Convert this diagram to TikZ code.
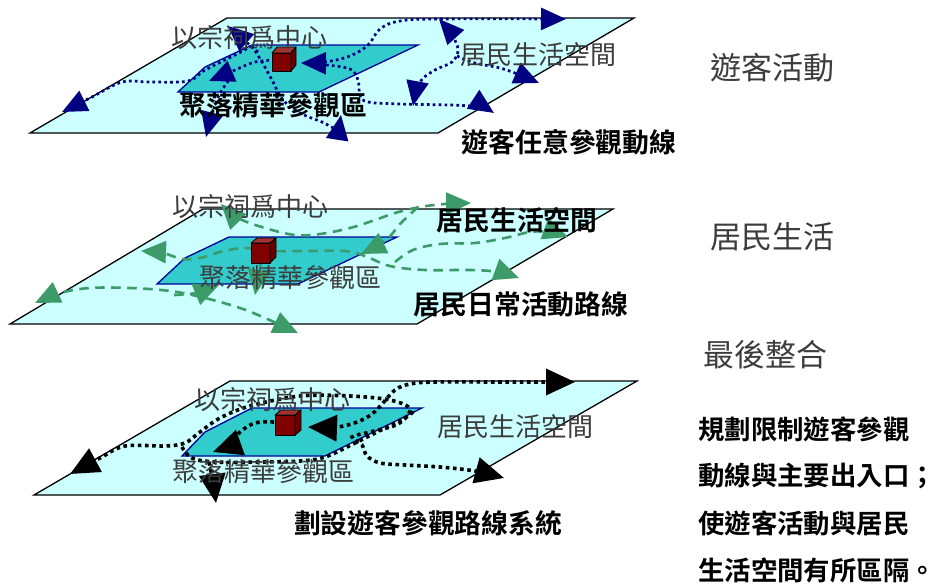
\documentclass[tikz,border=0pt]{standalone}
\usepackage{fontspec}
\setmainfont{Noto Sans CJK TC}[BoldFont={Noto Sans CJK TC Bold}]
\usetikzlibrary{arrows.meta}
\definecolor{navyl}{RGB}{0,0,128}
\definecolor{greenl}{RGB}{60,155,105}
\definecolor{planec}{RGB}{204,255,255}
\definecolor{corec}{RGB}{51,204,204}
\definecolor{coreedge}{RGB}{0,0,153}
\definecolor{cubefront}{RGB}{128,0,0}
\definecolor{cubetop}{RGB}{165,50,50}
\definecolor{cubeside}{RGB}{105,0,0}
\definecolor{txtgray}{RGB}{60,60,60}
\tikzset{
  plane/.style={fill=planec, draw=black, line width=1.3pt, line join=miter},
  core/.style={fill=corec, draw=coreedge, line width=1.3pt, line join=miter},
  cubef/.style={fill=cubefront, draw=black, line width=0.9pt, line join=round},
  cubet/.style={fill=cubetop, draw=black, line width=0.9pt, line join=round},
  cubes/.style={fill=cubeside, draw=black, line width=0.9pt, line join=round},
  tourline/.style={draw=navyl, line width=2.7pt, dash pattern=on 2.7pt off 3.2pt,
    >={Triangle[length=25pt,width=22pt]}},
  resline/.style={draw=greenl, line width=2.6pt, dash pattern=on 9.5pt off 6.5pt,
    >={Triangle[length=25pt,width=22pt]}},
  planline/.style={draw=black, line width=3.6pt, dash pattern=on 3.6pt off 3.6pt,
    >={Triangle[length=29pt,width=26pt]}},
  gtxt/.style={inner sep=0pt, text=txtgray, font=\fontsize{26}{30}\selectfont},
  btxt/.style={inner sep=0pt, text=black, font=\fontsize{26.8}{30}\selectfont\bfseries},
  rtxt/.style={inner sep=0pt, text=txtgray, font=\fontsize{31}{34}\selectfont},
  rbtxt/.style={inner sep=0pt, text=black, anchor=west, font=\fontsize{26.4}{30}\selectfont\bfseries},
}
\begin{document}
\begin{tikzpicture}[x=1pt,y=-1pt]
\useasboundingbox (0,0) rectangle (937,584);

% ---------------- Panel 1 ----------------
\draw[plane] (30,133) -- (438,133) -- (634,18) -- (227,18) -- cycle;
\draw[core] (178,92) -- (319,92) -- (418,45) -- (252,45) -- (205,67) -- cycle;
\draw[tourline,<->] plot[smooth,tension=0.6] coordinates {(301,63) (325,62) (350,56) (368,45) (380,29) (400,21) (440,19) (566,19)};
\draw[tourline,->] plot[smooth,tension=0.6] coordinates {(326,65) (350,69) (358,80) (360,95) (368,102) (400,104) (470,106) (494,113)};
\draw[tourline,->] plot[smooth,tension=0.6] coordinates {(252,46) (235,55) (205,70) (188,81) (150,82) (122,82) (92,97) (62,112)};
\draw[tourline,->] plot[smooth,tension=0.6] coordinates {(275,60) (255,62) (235,70) (209,81)};
\draw[tourline,->] plot[smooth,tension=0.6] coordinates {(258,52) (245,41) (228,26)};
\draw[tourline,->] plot[smooth,tension=0.6] coordinates {(252,46) (262,62) (272,80) (283,100) (300,113) (322,122) (336,128) (341,115)};
\draw[tourline,->] plot[smooth,tension=0.6] coordinates {(232,76) (219,95) (212,115) (206,137)};
\draw[tourline,<->] plot[smooth,tension=0.6] coordinates {(439,19) (452,35) (458,50) (452,62) (435,70) (420,82) (413,106)};
\draw[tourline,->] plot[smooth,tension=0.6] coordinates {(457,56) (475,63) (500,68) (520,75) (539,83)};
\draw[cubef] (272,53) rectangle (291,71);
\draw[cubet] (272,53) -- (291,53) -- (296,47) -- (277,47) -- cycle;
\draw[cubes] (291,53) -- (296,47) -- (296,65) -- (291,71) -- cycle;
\node[gtxt] (p1center) at (249,38) {以宗祠爲中心};
\node[btxt] (p1core) at (273,105) {聚落精華參觀區};
\node[gtxt] (p1life) at (538,55) {居民生活空間};
\node[btxt] (p1route) at (569,142) {遊客任意參觀動線};

% ---------------- Panel 2 ----------------
\draw[plane] (10,324) -- (417,324) -- (613,209) -- (203,209) -- cycle;
\draw[core] (157,284) -- (298,284) -- (397,237) -- (229,237) -- (185,258) -- cycle;
\draw[resline,<->] plot[smooth,tension=0.6] coordinates {(35,303) (60,293) (90,288) (130,288) (170,291) (205,298) (240,308) (265,318) (298,333)};
\draw[resline,->] plot[smooth,tension=0.6] coordinates {(174,295) (196,293) (219,285)};
\draw[resline,<->] plot[smooth,tension=0.6] coordinates {(141,251) (163,253) (182,259) (200,258) (220,252) (245,248) (275,251) (310,251) (345,251) (365,256) (390,266) (425,270) (470,270) (498,272) (519,278)};
\draw[resline,<->] plot[smooth,tension=0.6] coordinates {(221,204) (238,218) (265,228) (295,235) (320,234) (350,228) (375,220) (395,213) (420,207) (445,204) (471,203)};
\draw[resline,->] plot[smooth,tension=0.6] coordinates {(418,207) (400,224) (386,240) (361,254)};
\draw[resline,->] plot[smooth,tension=0.6] coordinates {(395,262) (413,250) (440,244) (475,243) (505,238) (530,232) (550,232) (568,237)};
\draw[resline,->] plot[smooth,tension=0.6] coordinates {(262,258) (258,278) (255,295)};
\draw[cubef] (251,243) rectangle (270,263);
\draw[cubet] (251,243) -- (270,243) -- (276,238) -- (257,238) -- cycle;
\draw[cubes] (270,243) -- (276,238) -- (276,257) -- (270,263) -- cycle;
\node[gtxt] (p2center) at (250,207) {以宗祠爲中心};
\node[btxt] (p2life) at (517,220) {居民生活空間};
\node[gtxt] (p2core) at (290,278) {聚落精華參觀區};
\node[btxt] (p2route) at (521,304) {居民日常活動路線};

% ---------------- Panel 3 ----------------
\draw[plane] (34,495) -- (440,495) -- (637,381) -- (230,381) -- cycle;
\draw[core] (182,456) -- (325,456) -- (422,408) -- (252,408) -- (205,432) -- cycle;
\draw[planline,<->] plot[smooth,tension=0.55] coordinates {(70,474) (100,458) (125,446) (165,446) (185,443) (200,432) (220,418) (250,406) (300,396) (350,396) (390,400) (410,409) (398,424) (370,432) (352,437) (362,445) (367,456) (380,463) (405,465) (440,467) (475,471) (504,478)};
\draw[planline,<->] plot[smooth,tension=0.6] coordinates {(308,427) (337,427) (357,422) (372,414) (383,403) (395,390) (410,384) (435,382) (500,382) (575,382)};
\draw[planline,->] plot[smooth,tension=0.6] coordinates {(274,422) (255,423) (240,432) (228,445) (213,452)};
\draw[planline] plot[smooth,tension=0.6] coordinates {(182,447) (192,458) (215,462) (260,462) (300,461) (325,457) (355,443) (385,428) (408,416) (414,410)};
\draw[planline,->] plot[smooth,tension=0.6] coordinates {(209,462) (213,482) (216,503)};
\draw[cubef] (275,415) rectangle (295,435);
\draw[cubet] (275,415) -- (295,415) -- (301,410) -- (281,410) -- cycle;
\draw[cubes] (295,415) -- (301,410) -- (301,430) -- (295,435) -- cycle;
\node[gtxt] (p3center) at (272,400) {以宗祠爲中心};
\node[gtxt] (p3life) at (515,427) {居民生活空間};
\node[gtxt] (p3core) at (263,472) {聚落精華參觀區};
\node[btxt] (p3route) at (428,523) {劃設遊客參觀路線系統};

% ---------------- Right column ----------------
\node[rtxt] (r1) at (772,68) {遊客活動};
\node[rtxt] (r2) at (772,237) {居民生活};
\node[rtxt] (r3) at (765,355) {最後整合};
\node[rbtxt] (r4) at (698,429) {規劃限制遊客參觀};
\node[rbtxt] (r5) at (698,476) {動線與主要出入口；};
\node[rbtxt] (r6) at (698,523) {使遊客活動與居民};
\node[rbtxt] (r7) at (698,570) {生活空間有所區隔。};
\end{tikzpicture}
\end{document}
